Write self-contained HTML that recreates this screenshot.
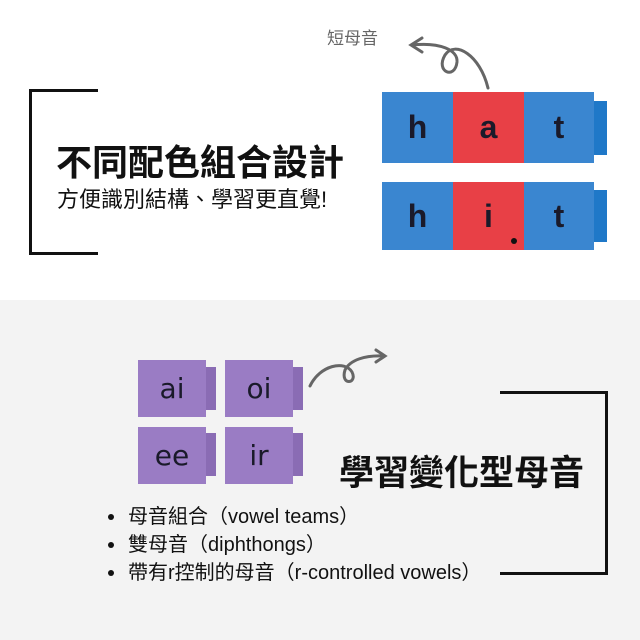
<!DOCTYPE html>
<html><head><meta charset="utf-8"><style>
body{margin:0;width:640px;height:640px;position:relative;overflow:hidden;background:#fff;font-family:"Liberation Sans","Noto Sans CJK TC",sans-serif;}
.a{position:absolute;white-space:nowrap;}
.bk{position:absolute;display:flex;align-items:center;justify-content:center;font-size:32px;font-weight:bold;color:#1a1a2a;font-family:"Liberation Sans",sans-serif;}
.b{background:#3a86d0;}.r{background:#e84046;}
.p{background:#9a7cc4;width:68px;height:57px;font-size:28px;font-weight:normal;font-family:"DejaVu Sans",sans-serif;}
.pt{position:absolute;background:#8a6cb4;width:10px;height:43px;}
.li{position:relative;padding-left:20px;}
.li:before{content:"";position:absolute;left:0;top:11px;width:6px;height:6px;border-radius:3px;background:#111;}
</style></head><body>
<div class="a" style="left:0;top:300px;width:640px;height:340px;background:#f3f3f3"></div>
<div class="a" style="left:29px;top:89px;width:66px;height:160px;border:3px solid #111;border-right:none"></div>
<div class="a" style="left:56px;top:134px;font-size:36px;font-weight:bold;color:#111">不同配色組合設計</div>
<div class="a" style="left:57px;top:182px;font-size:22px;color:#111">方便識別結構、學習更直覺!</div>
<div class="a" style="left:327px;top:24px;font-size:17px;color:#666">短母音</div>
<div class="bk b" style="left:382px;top:92px;width:71px;height:71px">h</div>
<div class="bk r" style="left:453px;top:92px;width:71px;height:71px">a</div>
<div class="bk b" style="left:524px;top:92px;width:70px;height:71px">t</div>
<div class="a" style="left:594px;top:101px;width:13px;height:54px;background:#1f78c8"></div>
<div class="bk b" style="left:382px;top:182px;width:71px;height:68px">h</div>
<div class="bk r" style="left:453px;top:182px;width:71px;height:68px">i</div>
<div class="a" style="left:511px;top:238px;width:6px;height:6px;border-radius:3px;background:#111"></div>
<div class="bk b" style="left:524px;top:182px;width:70px;height:68px">t</div>
<div class="a" style="left:594px;top:190px;width:13px;height:52px;background:#1f78c8"></div>
<svg class="a" style="left:0;top:0" width="640" height="640">
<g fill="none" stroke="#666" stroke-width="3" stroke-linecap="round">
<path d="M488 88 C480 55 455 40 445 55 C435 72 455 80 457 62 C458 50 440 42 412 45"/>
<path d="M422 38 L411 45 L422 52"/>
<path d="M310 386 C320 365 345 360 352 372 C358 384 340 386 345 370 C350 360 365 355 384 356"/>
<path d="M376 350 L385 356 L376 362"/>
</g></svg>
<div class="bk p" style="left:138px;top:360px">ai</div><div class="pt" style="left:206px;top:367px"></div>
<div class="bk p" style="left:225px;top:360px">oi</div><div class="pt" style="left:293px;top:367px"></div>
<div class="bk p" style="left:138px;top:427px">ee</div><div class="pt" style="left:206px;top:433px"></div>
<div class="bk p" style="left:225px;top:427px">ir</div><div class="pt" style="left:293px;top:433px"></div>
<div class="a" style="left:500px;top:391px;width:105px;height:178px;border:3px solid #111;border-left:none"></div>
<div class="a" style="left:339px;top:445px;font-size:35px;font-weight:bold;color:#111">學習變化型母音</div>
<div class="a" style="left:108px;top:503px;font-size:20px;color:#111;line-height:28px">
<div class="li">母音組合（vowel teams）</div>
<div class="li">雙母音（diphthongs）</div>
<div class="li">帶有r控制的母音（r-controlled vowels）</div>
</div>
</body></html>
